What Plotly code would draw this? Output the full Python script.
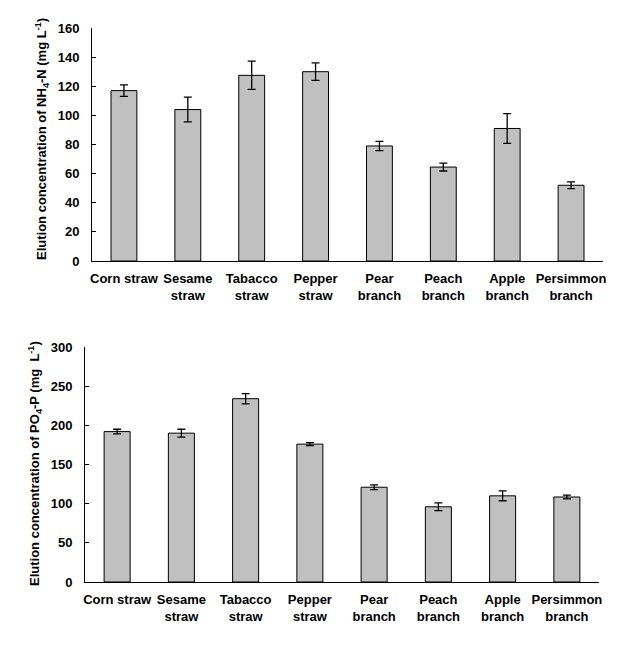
import plotly.graph_objects as go

# categories (two-line tick labels)
materials = ["Corn straw", "Sesame<br>straw", "Tabacco<br>straw", "Pepper<br>straw",
             "Pear<br>branch", "Peach<br>branch", "Apple<br>branch", "Persimmon<br>branch"]

# NH4-N elution (mg/L) and error
nh4_mean = [117, 104, 127.5, 130, 79, 64.5, 91, 52]
nh4_err = [4, 8.5, 9.7, 6, 3.2, 2.7, 10.2, 2.3]

# PO4-P elution (mg/L) and error
po4_mean = [192, 190, 234, 176, 121, 96, 110, 108.5]
po4_err = [3, 5, 6.5, 1.8, 3, 5, 6.3, 2.5]

font = dict(family="Arial, Liberation Sans, sans-serif", size=13, color="black")
bar_style = dict(color="#C0C0C0", line=dict(color="black", width=1))
err_style = dict(type="data", color="black", thickness=1.3, width=4)

fig = go.Figure()

fig.add_trace(go.Bar(x=list(range(len(materials))), y=nh4_mean,
                     error_y=dict(array=nh4_err, **err_style),
                     marker=bar_style, xaxis="x", yaxis="y", showlegend=False))

fig.add_trace(go.Bar(x=list(range(len(materials))), y=po4_mean,
                     error_y=dict(array=po4_err, **err_style),
                     marker=bar_style, xaxis="x2", yaxis="y2", showlegend=False))

# page body has an 8px margin, so the figure is 16px smaller than the window
W, H = 617, 645

ax_common = dict(showline=True, linecolor="black", linewidth=1, showgrid=False,
                 zeroline=False, automargin=False,
                 tickfont=dict(family=font["family"], size=13, color="black"))

xcommon = dict(ax_common, range=[-0.5, 7.5], tickmode="array",
               tickvals=list(range(len(materials))),
               ticktext=["<b>%s</b>" % m.replace("<br>", "</b><br><b>") for m in materials],
               ticks="", ticklabelstandoff=5)

ycommon = dict(ax_common, ticks="inside", ticklen=4, tickcolor="black",
               ticklabelstandoff=9, tickprefix="<b>", ticksuffix="</b>")

fig.update_layout(
    width=W, height=H,
    paper_bgcolor="white", plot_bgcolor="white",
    font=font,
    bargap=0.595,
    margin=dict(l=0, r=0, t=0, b=0, autoexpand=False),
    xaxis=dict(xcommon, domain=[84 / W, 595 / W], anchor="y"),
    yaxis=dict(ycommon, domain=[1 - 253 / H, 1 - 20 / H], anchor="x",
               range=[0, 160], dtick=20),
    xaxis2=dict(xcommon, domain=[77 / W, 591 / W], anchor="y2"),
    yaxis2=dict(ycommon, domain=[1 - 574 / H, 1 - 339 / H], anchor="x2",
                range=[0, 300], dtick=50),
    annotations=[
        dict(text="<b>Elution concentration of NH<sub>4</sub>-N (mg L<sup>-1</sup>)</b>",
             xref="paper", yref="paper", x=34 / W, y=1 - 131 / H, textangle=-90,
             showarrow=False, font=font, xanchor="center", yanchor="middle"),
        dict(text="<b>Elution concentration of PO<sub>4</sub>-P (mg  L<sup>-1</sup>)</b>",
             xref="paper", yref="paper", x=27 / W, y=1 - 456 / H, textangle=-90,
             showarrow=False, font=font, xanchor="center", yanchor="middle"),
    ],
)

fig.write_html("out.html")
